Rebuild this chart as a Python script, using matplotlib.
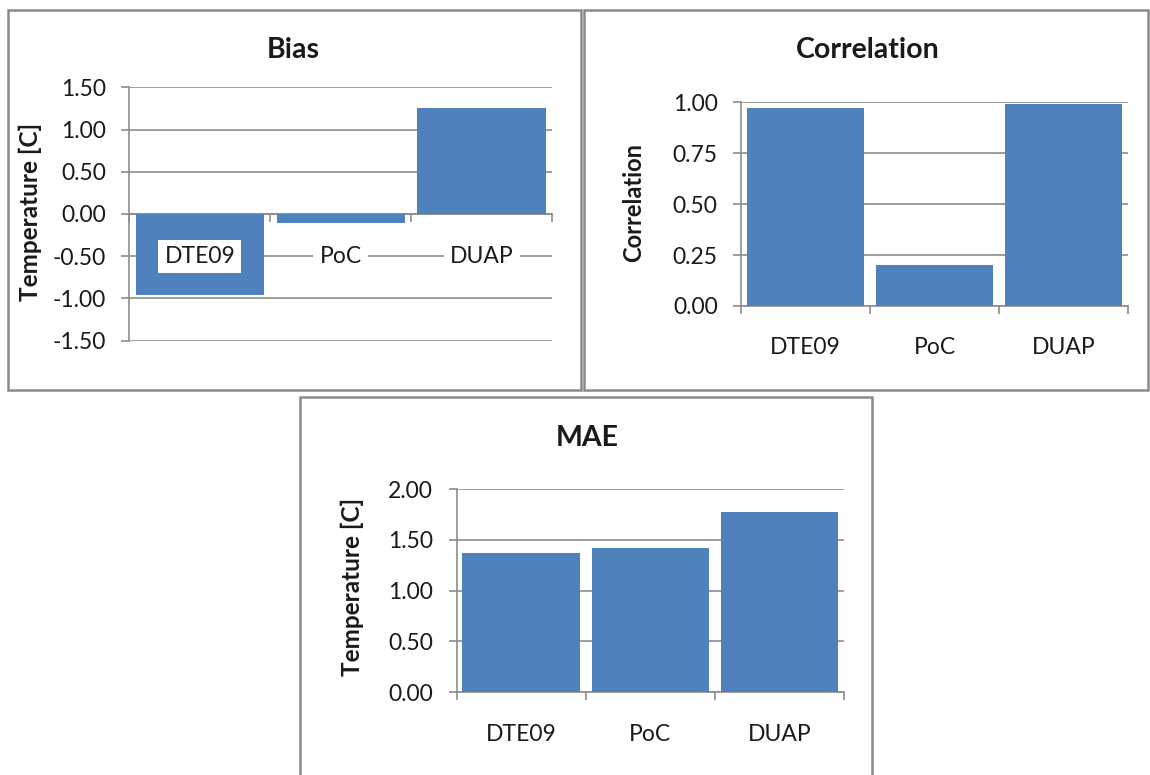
import matplotlib
matplotlib.use("Agg")
import matplotlib.pyplot as plt
from matplotlib.patches import Rectangle
from matplotlib.ticker import FormatStrFormatter, FixedLocator

plt.rcParams['font.family'] = ['Lato', 'DejaVu Sans']
plt.rcParams['axes.unicode_minus'] = False

# data
models = ['DTE09', 'PoC', 'DUAP']
bias = [-0.96, -0.11, 1.25]
correlation = [0.97, 0.20, 0.99]
mae = [1.37, 1.42, 1.77]

bias_ticks = [-1.5, -1.0, -0.5, 0.0, 0.5, 1.0, 1.5]
corr_ticks = [0.0, 0.25, 0.5, 0.75, 1.0]
mae_ticks = [0.0, 0.5, 1.0, 1.5, 2.0]

W, H = 1150, 775
BAR = '#4F81BD'
GRID = '#8c8c8c'
TXT = '#1a1a1a'
TICK_FS = 16.5
TITLE_FS = 20.5

fig = plt.figure(figsize=(W / 100, H / 100), dpi=100)
fig.patch.set_facecolor('white')


def px(x0, y0, x1, y1):
    # pixel box (top-left origin) -> figure fraction rect
    return [x0 / W, 1 - y1 / H, (x1 - x0) / W, (y1 - y0) / H]


def frame(x0, y0, x1, y1):
    fig.add_artist(Rectangle((x0 / W, 1 - y1 / H), (x1 - x0) / W, (y1 - y0) / H,
                             transform=fig.transFigure, fill=False,
                             ec='#8a8a8a', lw=1.8))


def style(ax, ticks, ylim):
    ax.set_xlim(-0.5, 2.5)
    ax.set_ylim(*ylim)
    ax.set_yticks(ticks)
    ax.yaxis.set_major_formatter(FormatStrFormatter('%.2f'))
    ax.set_axisbelow(True)
    ax.yaxis.grid(True, color=GRID, lw=1.2)
    for s in ['top', 'right']:
        ax.spines[s].set_visible(False)
    for s in ['left', 'bottom']:
        ax.spines[s].set_color(GRID)
        ax.spines[s].set_linewidth(1.2)
    ax.set_xticks([])
    ax.xaxis.set_minor_locator(FixedLocator([-0.5, 0.5, 1.5, 2.5]))
    ax.tick_params(axis='x', which='minor', length=6, width=1.2, color=GRID, direction='out')
    ax.tick_params(axis='y', length=6, width=1.2, color=GRID, direction='out',
                   labelsize=TICK_FS, labelcolor=TXT, pad=11)


# panel frames
frame(8, 10, 581, 390)
frame(584, 10, 1148, 390)
frame(300, 397, 872, 790)

# Bias
ax1 = fig.add_axes(px(129.4, 87.3, 552, 340.7))
ax1.bar(range(3), bias, width=0.91, color=BAR, zorder=3)
style(ax1, bias_ticks, (-1.5, 1.5))
ax1.spines['bottom'].set_position(('data', 0))
for i, name in enumerate(models):
    ax1.text(i, -0.5, name, ha='center', va='center', fontsize=TICK_FS, color=TXT, zorder=4,
             bbox=dict(facecolor='white', edgecolor='none', pad=4.5))
fig.text(293 / W, 1 - 50 / H, 'Bias', ha='center', va='center', fontsize=TITLE_FS,
         fontweight='bold', color=TXT)
fig.text(30 / W, 1 - 212 / H, 'Temperature [C]', ha='center', va='center', fontsize=17.5,
         fontweight='bold', rotation=90, color=TXT)

# Correlation
ax2 = fig.add_axes(px(741.3, 102.3, 1128, 306))
ax2.bar(range(3), correlation, width=0.91, color=BAR, zorder=3)
style(ax2, corr_ticks, (0, 1))
for i, name in enumerate(models):
    ax2.text(i, -0.205, name, ha='center', va='center', fontsize=TICK_FS, color=TXT,
             transform=ax2.get_xaxis_transform())
fig.text(868 / W, 1 - 50 / H, 'Correlation', ha='center', va='center', fontsize=TITLE_FS,
         fontweight='bold', color=TXT)
fig.text(634 / W, 1 - 203 / H, 'Correlation', ha='center', va='center', fontsize=17,
         fontweight='bold', rotation=90, color=TXT)

# MAE
ax3 = fig.add_axes(px(456.5, 489, 844.2, 692.3))
ax3.bar(range(3), mae, width=0.91, color=BAR, zorder=3)
style(ax3, mae_ticks, (0, 2))
for i, name in enumerate(models):
    ax3.text(i, -0.21, name, ha='center', va='center', fontsize=TICK_FS, color=TXT,
             transform=ax3.get_xaxis_transform())
fig.text(587 / W, 1 - 438 / H, 'MAE', ha='center', va='center', fontsize=TITLE_FS,
         fontweight='bold', color=TXT)
fig.text(352 / W, 1 - 587 / H, 'Temperature [C]', ha='center', va='center', fontsize=17.5,
         fontweight='bold', rotation=90, color=TXT)

fig.savefig('out.png', dpi=100)
